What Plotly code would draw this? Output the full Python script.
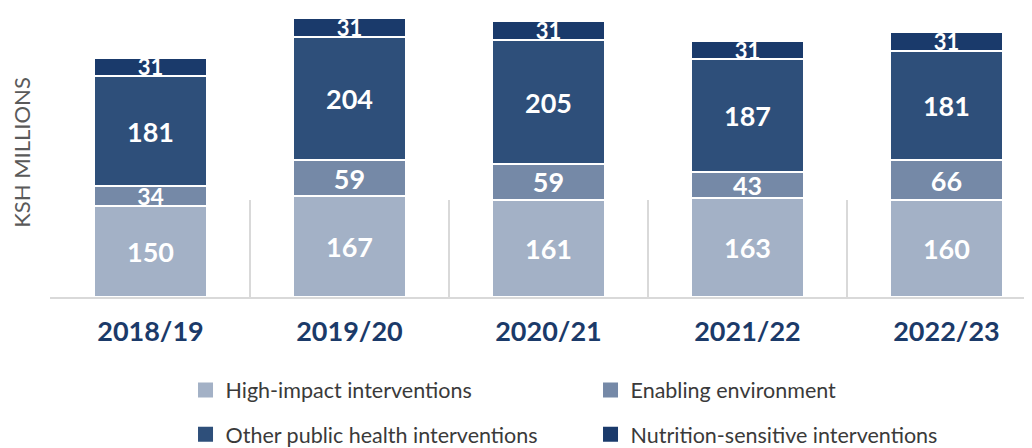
import plotly.graph_objects as go

years = ["2018/19", "2019/20", "2020/21", "2021/22", "2022/23"]
high_impact = [150, 167, 161, 163, 160]
enabling = [34, 59, 59, 43, 66]
other_public = [181, 204, 205, 187, 181]
nutrition = [31, 31, 31, 31, 31]

series_names = [
    "High-impact interventions",
    "Enabling environment",
    "Other public health interventions",
    "Nutrition-sensitive interventions",
]
series_values = [high_impact, enabling, other_public, nutrition]
colors = ["#a3b1c6", "#7589a7", "#2e4f7a", "#1a3a6b"]
label_sizes = [27, [23, 27, 27, 25, 27], 27, 22]
legend_ids = ["legend", "legend", "legend2", "legend2"]

FONT = "Lato, 'Liberation Sans', sans-serif"

fig = go.Figure()
for name, vals, col, ls in zip(series_names, series_values, colors, label_sizes):
    fig.add_trace(go.Bar(
        x=years, y=vals, name=name,
        marker=dict(color=col, line=dict(color="white", width=2)),
        width=0.57,
        text=[str(v) for v in vals],
        textposition="inside",
        insidetextanchor="middle",
        constraintext="none",
        textfont=dict(family=FONT, size=ls, color="white", weight="bold"),
        textangle=0,
        showlegend=False,
        hoverinfo="skip",
    ))

# legend entries with larger square swatches
for name, col, lg in zip(series_names, colors, legend_ids):
    fig.add_trace(go.Scatter(
        x=[None], y=[None], mode="markers", name=name,
        marker=dict(symbol="square", size=15, color=col),
        legend=lg, hoverinfo="skip",
    ))

legend_style = dict(
    orientation="h", x=0.138, xanchor="left", yanchor="middle",
    entrywidth=360, traceorder="normal", itemsizing="trace",
    font=dict(family=FONT, size=21.5, color="#3a3a3a"),
    bgcolor="rgba(0,0,0,0)",
)

fig.update_layout(
    width=1024, height=440,
    barmode="stack",
    plot_bgcolor="white", paper_bgcolor="white",
    margin=dict(l=42, r=0, t=0, b=151, autoexpand=False),
    font=dict(family=FONT, color="#3a3a3a"),
    xaxis=dict(
        range=[-0.505, 4.43],
        showline=True, linecolor="#d9d9d9", linewidth=2,
        ticks="inside", tickson="boundaries", ticklen=97,
        tickcolor="#d9d9d9", tickwidth=1.5,
        tickfont=dict(family=FONT, size=27, color="#1b3a69", weight="bold"),
        ticklabelstandoff=10,
        showgrid=False, zeroline=False,
        automargin=False,
    ),
    yaxis=dict(
        range=[0, 478],
        showticklabels=False, showgrid=False, zeroline=False, ticks="",
        title=dict(text="KSH MILLIONS", font=dict(family=FONT, size=22, color="#5a5a5a"), standoff=13),
        automargin=False,
    ),
    legend=dict(legend_style, y=-0.322),
    legend2=dict(legend_style, y=-0.475),
)

fig.write_html("out.html")
